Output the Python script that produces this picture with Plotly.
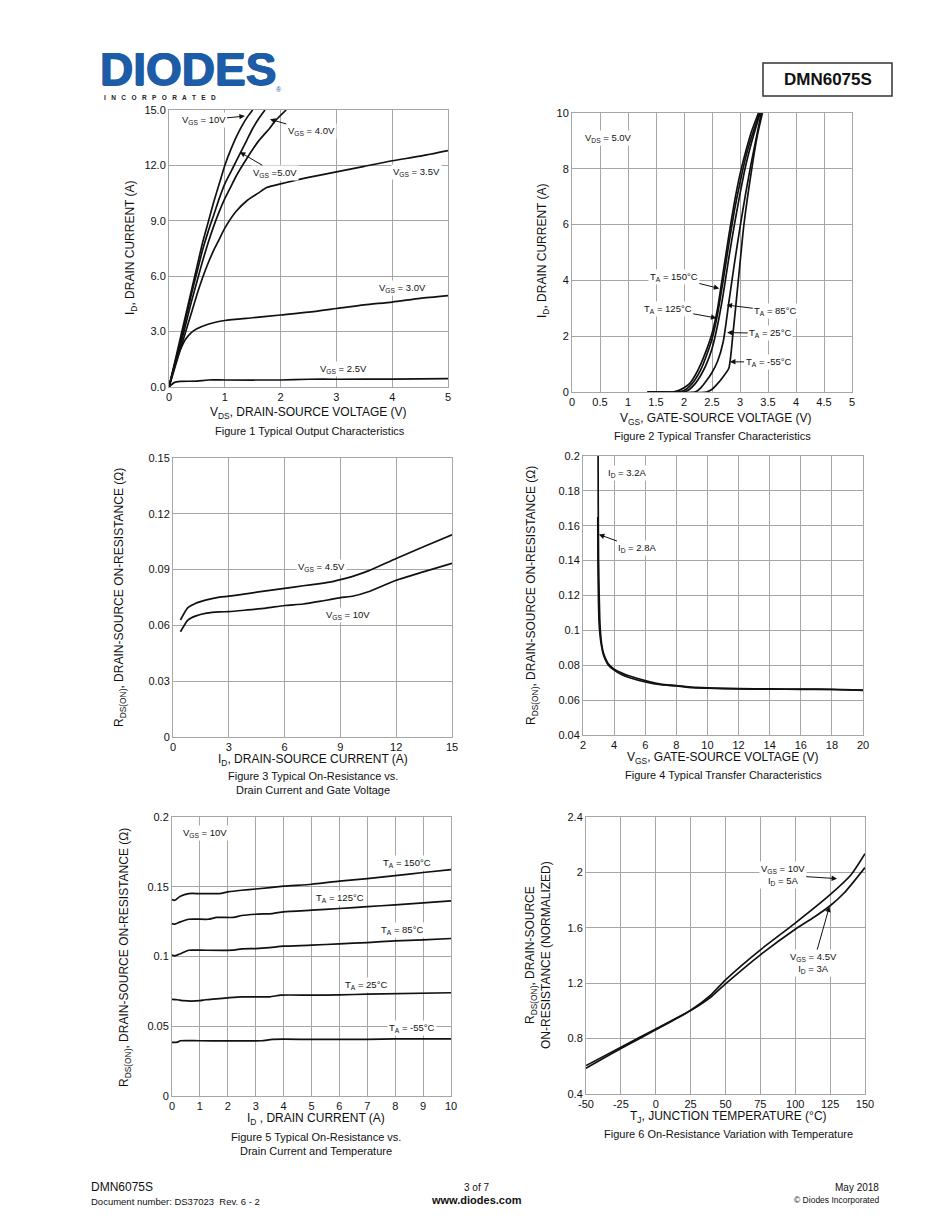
import plotly.graph_objects as go

PAGE_W, PAGE_H = 950, 1230
OFF = 8  # default body margin of the html page
W, H = PAGE_W - 2 * OFF, PAGE_H - 2 * OFF
FONT = "Liberation Sans, Arial, sans-serif"
GRID = "#a6a6a6"

# ---------------- Figure 1 data: ID vs VDS ----------------
f1_v10_x = [0, 0.1, 0.2, 0.3, 0.4, 0.5, 0.6, 0.7, 0.8, 0.9, 1.0, 1.1, 1.2, 1.3, 1.4, 1.5]
f1_v10_y = [0, 1.3, 2.6, 3.9, 5.2, 6.5, 7.8, 8.9, 10.0, 11.0, 12.0, 12.8, 13.5, 14.1, 14.6, 15.0]
f1_v5_x = [0, 0.1, 0.2, 0.3, 0.4, 0.5, 0.6, 0.7, 0.8, 0.9, 1.0, 1.1, 1.2, 1.3, 1.4, 1.5, 1.6, 1.72]
f1_v5_y = [0, 1.2, 2.4, 3.7, 5.0, 6.2, 7.4, 8.4, 9.3, 10.2, 11.0, 11.6, 12.2, 12.8, 13.4, 14.0, 14.5, 15.0]
f1_v4_x = [0, 0.1, 0.2, 0.3, 0.4, 0.5, 0.6, 0.7, 0.8, 0.9, 1.0, 1.1, 1.2, 1.4, 1.6, 1.8, 1.9, 2.1]
f1_v4_y = [0, 1.1, 2.2, 3.4, 4.6, 5.7, 6.8, 7.8, 8.7, 9.5, 10.2, 10.8, 11.4, 12.4, 13.3, 14.0, 14.4, 15.0]
f1_v35_x = [0, 0.1, 0.2, 0.3, 0.4, 0.5, 0.6, 0.7, 0.8, 0.9, 1.0, 1.2, 1.4, 1.6, 1.75, 2.0, 2.2, 2.5, 3.0, 3.5, 4.0, 4.5, 5.0]
f1_v35_y = [0, 1.0, 2.0, 3.0, 4.0, 5.0, 5.9, 6.7, 7.4, 8.0, 8.6, 9.5, 10.1, 10.5, 10.8, 11.0, 11.15, 11.35, 11.65, 11.95, 12.25, 12.5, 12.8]
f1_v3_x = [0, 0.1, 0.2, 0.3, 0.4, 0.5, 0.7, 1.0, 1.5, 2.0, 2.5, 3.0, 3.5, 4.0, 4.5, 5.0]
f1_v3_y = [0, 1.2, 2.0, 2.6, 2.95, 3.15, 3.4, 3.6, 3.75, 3.9, 4.05, 4.25, 4.45, 4.6, 4.8, 4.95]
f1_v25_x = [0, 0.1, 0.2, 0.5, 0.7, 1.0, 2.0, 2.5, 3.0, 4.0, 5.0]
f1_v25_y = [0, 0.25, 0.3, 0.32, 0.38, 0.38, 0.38, 0.42, 0.42, 0.43, 0.45]

# ---------------- Figure 2 data: ID vs VGS ----------------
f2_t150_x = [1.35, 1.8, 1.9, 2.0, 2.1, 2.2, 2.3, 2.4, 2.5, 2.6, 2.7, 2.8, 2.9, 3.0, 3.1, 3.2, 3.33]
f2_t150_y = [0, 0, 0.05, 0.15, 0.3, 0.6, 1.0, 1.5, 2.1, 3.0, 4.3, 5.6, 6.8, 7.8, 8.6, 9.3, 10.0]
f2_t125_x = [1.35, 1.9, 2.0, 2.1, 2.2, 2.3, 2.4, 2.5, 2.6, 2.7, 2.8, 2.9, 3.0, 3.1, 3.2, 3.35]
f2_t125_y = [0, 0, 0.05, 0.2, 0.45, 0.8, 1.3, 1.9, 2.8, 4.0, 5.3, 6.5, 7.5, 8.4, 9.1, 10.0]
f2_t85_x = [1.35, 2.0, 2.1, 2.2, 2.3, 2.4, 2.5, 2.6, 2.7, 2.8, 2.9, 3.0, 3.1, 3.2, 3.36]
f2_t85_y = [0, 0, 0.1, 0.3, 0.6, 1.0, 1.55, 2.4, 3.5, 4.8, 6.0, 7.1, 8.1, 8.9, 10.0]
f2_t25_x = [1.35, 2.2, 2.3, 2.4, 2.5, 2.6, 2.7, 2.8, 2.9, 3.0, 3.1, 3.2, 3.3, 3.38]
f2_t25_y = [0, 0, 0.15, 0.4, 0.7, 1.1, 1.8, 3.2, 4.6, 5.9, 7.1, 8.2, 9.2, 10.0]
f2_tm55_x = [1.35, 2.4, 2.5, 2.6, 2.7, 2.8, 2.87, 2.97, 3.07, 3.21, 3.31, 3.4]
f2_tm55_y = [0, 0, 0.1, 0.3, 0.55, 0.85, 2.0, 4.0, 6.0, 8.0, 9.2, 10.0]

# ---------------- Figure 3 data: RDS(on) vs ID ----------------
f3_id = [0.4, 0.8, 1.2, 1.8, 2.5, 3, 4, 5, 6, 7, 8, 8.5, 9, 9.7, 10.5, 12, 13.5, 15]
f3_v45 = [0.0629, 0.0695, 0.0718, 0.0737, 0.0752, 0.0757, 0.0771, 0.0786, 0.0799, 0.0813, 0.0826, 0.0834, 0.0846, 0.0865, 0.0893, 0.0960, 0.1024, 0.1087]
f3_v10 = [0.0566, 0.0629, 0.0650, 0.0666, 0.0673, 0.0674, 0.0683, 0.0693, 0.0707, 0.0715, 0.0731, 0.0740, 0.0749, 0.0758, 0.0781, 0.0843, 0.0889, 0.0934]

# ---------------- Figure 4 data: RDS(on) vs VGS ----------------
f4_i32_x = [2.97, 2.98, 3.0, 3.04, 3.08, 3.13, 3.2, 3.3, 3.45, 3.65, 4.0, 4.5, 5, 6, 7, 8, 9, 10, 12, 14, 16, 18, 20]
f4_i32_y = [0.2, 0.17, 0.14, 0.12, 0.106, 0.098, 0.092, 0.0875, 0.0838, 0.0805, 0.0778, 0.0755, 0.0738, 0.0712, 0.0692, 0.0684, 0.0674, 0.0670, 0.0666, 0.0664, 0.0663, 0.0662, 0.0658]
f4_i28_x = [2.95, 2.96, 2.99, 3.03, 3.11, 3.2, 3.28, 3.42, 3.62, 4.0, 4.5, 5, 6, 7, 8, 9, 10, 12, 14, 16, 18, 20]
f4_i28_y = [0.165, 0.14, 0.12, 0.105, 0.096, 0.0905, 0.087, 0.0835, 0.0802, 0.0772, 0.0745, 0.0728, 0.0704, 0.0688, 0.0681, 0.0671, 0.0668, 0.0664, 0.0663, 0.0662, 0.0661, 0.0656]

# ---------------- Figure 5 data: RDS(on) vs ID and temperature ----------------
f5_t150_x = [0, 0.1, 0.3, 0.6, 1.0, 1.7, 2.0, 2.5, 3, 4, 5, 6, 7, 8, 9, 10]
f5_t150_y = [0.1408, 0.1403, 0.1432, 0.1451, 0.1451, 0.1451, 0.1463, 0.1475, 0.1484, 0.1504, 0.1518, 0.1540, 0.1558, 0.1580, 0.1602, 0.1623]
f5_t125_x = [0, 0.1, 0.3, 0.6, 1.3, 1.6, 2.2, 2.5, 3, 3.6, 4, 5, 6, 7, 8, 9, 10]
f5_t125_y = [0.1236, 0.1232, 0.1248, 0.1267, 0.1267, 0.1280, 0.1280, 0.1294, 0.1303, 0.1308, 0.1320, 0.1332, 0.1344, 0.1358, 0.1370, 0.1385, 0.1399]
f5_t85_x = [0, 0.1, 0.3, 0.6, 1.0, 2.2, 2.5, 3, 3.5, 4, 5, 6, 7, 8, 9, 10]
f5_t85_y = [0.1010, 0.1005, 0.1020, 0.1045, 0.1045, 0.1045, 0.1055, 0.1057, 0.1064, 0.1074, 0.1081, 0.1091, 0.1100, 0.1112, 0.1119, 0.1129]
f5_t25_x = [0, 0.2, 0.4, 1.0, 1.2, 2.0, 2.5, 3.5, 3.9, 5, 6, 7, 10]
f5_t25_y = [0.0692, 0.0690, 0.0683, 0.0683, 0.0690, 0.0704, 0.0711, 0.0711, 0.0723, 0.0723, 0.0725, 0.0730, 0.0740]
f5_tm55_x = [0, 0.2, 0.3, 1.0, 3.2, 3.6, 5, 7, 8, 10]
f5_tm55_y = [0.0384, 0.0386, 0.0396, 0.0396, 0.0396, 0.0406, 0.0406, 0.0406, 0.0410, 0.0410]

# ---------------- Figure 6 data: normalized RDS(on) vs TJ ----------------
f6_v10_x = [-50, -25, 0, 25, 40, 50, 75, 100, 125, 140, 150]
f6_v10_y = [0.605, 0.737, 0.870, 1.005, 1.12, 1.224, 1.441, 1.634, 1.839, 1.983, 2.135]
f6_v45_x = [-50, -25, 0, 25, 40, 50, 75, 100, 115, 125, 135, 150]
f6_v45_y = [0.586, 0.728, 0.863, 1.002, 1.104, 1.195, 1.405, 1.590, 1.687, 1.759, 1.851, 2.035]

# tick definitions
f1_xt = [0, 1, 2, 3, 4, 5]; f1_yt = [0, 3, 6, 9, 12, 15]
f1_ytl = ["0.0", "3.0", "6.0", "9.0", "12.0", "15.0"]
f2_xt = [0, 0.5, 1, 1.5, 2, 2.5, 3, 3.5, 4, 4.5, 5]
f2_xtl = ["0", "0.5", "1", "1.5", "2", "2.5", "3", "3.5", "4", "4.5", "5"]
f2_yt = [0, 2, 4, 6, 8, 10]
f3_xt = [0, 3, 6, 9, 12, 15]
f3_yt = [0, 0.03, 0.06, 0.09, 0.12, 0.15]
f3_ytl = ["0", "0.03", "0.06", "0.09", "0.12", "0.15"]
f4_xt = [2, 4, 6, 8, 10, 12, 14, 16, 18, 20]
f4_yt = [0.04, 0.06, 0.08, 0.1, 0.12, 0.14, 0.16, 0.18, 0.2]
f4_ytl = ["0.04", "0.06", "0.08", "0.1", "0.12", "0.14", "0.16", "0.18", "0.2"]
f5_xt = list(range(0, 11))
f5_yt = [0, 0.05, 0.1, 0.15, 0.2]
f5_ytl = ["0", "0.05", "0.1", "0.15", "0.2"]
f6_xt = [-50, -25, 0, 25, 50, 75, 100, 125, 150]
f6_yt = [0.4, 0.8, 1.2, 1.6, 2.0, 2.4]
f6_ytl = ["0.4", "0.8", "1.2", "1.6", "2", "2.4"]


def px(x):
    return (x - OFF) / W


def py(y):
    return 1 - (y - OFF) / H


fig = go.Figure()

# plot areas in page pixels: (x0, x1, ytop, ybottom)
areas = {
    1: (169, 448, 110, 387),
    2: (572, 852, 113, 392),
    3: (173, 452, 458, 737),
    4: (583, 863, 456, 735),
    5: (172, 451, 817, 1096),
    6: (586, 865, 817, 1094),
}
ranges = {
    1: ([0, 5], [0, 15], f1_xt, None, f1_yt, f1_ytl),
    2: ([0, 5], [0, 10], f2_xt, f2_xtl, f2_yt, None),
    3: ([0, 15], [0, 0.15], f3_xt, None, f3_yt, f3_ytl),
    4: ([2, 20], [0.04, 0.2], f4_xt, None, f4_yt, f4_ytl),
    5: ([0, 10], [0, 0.2], f5_xt, None, f5_yt, f5_ytl),
    6: ([-50, 150], [0.4, 2.4], f6_xt, None, f6_yt, f6_ytl),
}

layout = {}
for k, (x0, x1, yt, yb) in areas.items():
    xr, yr, xt, xtl, ytv, ytl = ranges[k]
    sx = "" if k == 1 else str(k)
    common = dict(showgrid=True, gridcolor=GRID, gridwidth=1, showline=True,
                  linecolor=GRID, linewidth=1, mirror=True, zeroline=False,
                  ticks="", tickfont=dict(family=FONT, size=11, color="#111"),
                  fixedrange=True, automargin=False)
    layout["xaxis" + sx] = dict(common, domain=[px(x0), px(x1)], range=xr,
                                tickvals=xt, ticktext=xtl if xtl else [str(v) for v in xt],
                                anchor="y" + sx)
    layout["yaxis" + sx] = dict(common, domain=[py(yb), py(yt)], range=yr,
                                tickvals=ytv, ticktext=ytl if ytl else [str(v) for v in ytv],
                                anchor="x" + sx)

fig.update_layout(**layout)


def line(x, y, k, w=1.7):
    sx = "" if k == 1 else str(k)
    fig.add_trace(go.Scatter(x=x, y=y, mode="lines", xaxis="x" + sx, yaxis="y" + sx,
                             line=dict(color="#111", width=w, shape="spline", smoothing=0.6),
                             hoverinfo="skip", showlegend=False))


for xs, ys in [(f1_v10_x, f1_v10_y), (f1_v5_x, f1_v5_y), (f1_v4_x, f1_v4_y),
               (f1_v35_x, f1_v35_y), (f1_v3_x, f1_v3_y), (f1_v25_x, f1_v25_y)]:
    line(xs, ys, 1)
for xs, ys in [(f2_t150_x, f2_t150_y), (f2_t125_x, f2_t125_y), (f2_t85_x, f2_t85_y),
               (f2_t25_x, f2_t25_y), (f2_tm55_x, f2_tm55_y)]:
    line(xs, ys, 2)
line(f3_id, f3_v45, 3)
line(f3_id, f3_v10, 3)
line(f4_i32_x, f4_i32_y, 4)
line(f4_i28_x, f4_i28_y, 4)
for xs, ys in [(f5_t150_x, f5_t150_y), (f5_t125_x, f5_t125_y), (f5_t85_x, f5_t85_y),
               (f5_t25_x, f5_t25_y), (f5_tm55_x, f5_tm55_y)]:
    line(xs, ys, 5)
line(f6_v10_x, f6_v10_y, 6)
line(f6_v45_x, f6_v45_y, 6)

ann = []


def label(k, x, y, text, ax=None, ay=None, size=9.5, xanchor="center"):
    sx = "" if k == 1 else str(k)
    d = dict(xref="x" + sx, yref="y" + sx, text=text, bgcolor="white",
             font=dict(family=FONT, size=size, color="#111"), borderpad=1)
    if ax is None:
        d.update(x=x, y=y, showarrow=False, xanchor=xanchor)
    else:
        d.update(x=x, y=y, ax=ax, ay=ay, axref="x" + sx, ayref="y" + sx,
                 showarrow=True, arrowhead=2, arrowsize=1.1, arrowwidth=1,
                 arrowcolor="#111", standoff=0)
    ann.append(d)


# Fig 1 labels
label(1, 1.36, 14.67, "V<sub>GS</sub> = 10V", ax=0.62, ay=14.45)
label(1, 1.81, 14.5, "V<sub>GS</sub> = 4.0V", ax=2.55, ay=13.85)
label(1, 1.27, 12.72, "V<sub>GS</sub> =5.0V", ax=1.9, ay=11.6)
label(1, 4.43, 11.62, "V<sub>GS</sub> = 3.5V")
label(1, 4.19, 5.36, "V<sub>GS</sub> = 3.0V")
label(1, 3.12, 0.97, "V<sub>GS</sub> = 2.5V")
# Fig 2 labels
label(2, 0.66, 9.12, "V<sub>DS</sub> = 5.0V")
label(2, 2.63, 3.71, "T<sub>A</sub> = 150°C", ax=1.82, ay=4.12)
label(2, 2.58, 2.65, "T<sub>A</sub> = 125°C", ax=1.71, ay=2.97)
label(2, 2.76, 3.12, "T<sub>A</sub> = 85°C", ax=3.63, ay=2.9)
label(2, 2.77, 2.13, "T<sub>A</sub> = 25°C", ax=3.54, ay=2.1)
label(2, 2.82, 1.08, "T<sub>A</sub> = -55°C", ax=3.51, ay=1.08)
# Fig 3 labels
label(3, 7.97, 0.0915, "V<sub>GS</sub> = 4.5V")
label(3, 9.41, 0.0655, "V<sub>GS</sub> = 10V")
# Fig 4 labels
label(4, 4.8, 0.190, "I<sub>D</sub> = 3.2A")
label(4, 3.02, 0.155, "I<sub>D</sub> = 2.8A", ax=5.5, ay=0.147)
# Fig 5 labels
label(5, 1.18, 0.1885, "V<sub>GS</sub> = 10V")
label(5, 8.42, 0.167, "T<sub>A</sub> = 150°C")
label(5, 6.02, 0.142, "T<sub>A</sub> = 125°C")
label(5, 8.24, 0.119, "T<sub>A</sub> = 85°C")
label(5, 6.95, 0.0796, "T<sub>A</sub> = 25°C")
label(5, 8.6, 0.0487, "T<sub>A</sub> = -55°C")
# Fig 6 labels
label(6, 130, 1.955, "V<sub>GS</sub> = 10V<br>I<sub>D</sub> = 5A", ax=91, ay=1.98)
label(6, 124.5, 1.754, "V<sub>GS</sub> = 4.5V<br>I<sub>D</sub> = 3A", ax=113, ay=1.345)


def ptext(x, y, text, size=12, angle=0, xanchor="center", bold=False, color="#111",
          fam=FONT, shadow=None):
    if bold:
        text = "<b>" + text + "</b>"
    f = dict(family=fam, size=size, color=color)
    if shadow:
        f["shadow"] = shadow
    ann.append(dict(xref="paper", yref="paper", x=px(x), y=py(y), text=text,
                    showarrow=False, textangle=angle, xanchor=xanchor, yanchor="middle",
                    font=f, borderpad=0))


# axis titles and captions
ptext(308, 413, "V<sub>DS</sub>, DRAIN-SOURCE VOLTAGE (V)", 12)
ptext(310, 431, "Figure 1 Typical Output Characteristics", 11)
ptext(131, 248, "I<sub>D</sub>, DRAIN CURRENT (A)", 12, angle=-90)

ptext(715, 419, "V<sub>GS</sub>, GATE-SOURCE VOLTAGE (V)", 12)
ptext(712, 436, "Figure 2 Typical Transfer Characteristics", 11)
ptext(543, 251, "I<sub>D</sub>, DRAIN CURRENT (A)", 12, angle=-90)

ptext(313, 760, "I<sub>D</sub>, DRAIN-SOURCE CURRENT (A)", 12)
ptext(313, 776, "Figure 3 Typical On-Resistance vs.", 11)
ptext(313, 790, "Drain Current and Gate Voltage", 11)
ptext(120, 598, "R<sub>DS(ON)</sub>, DRAIN-SOURCE ON-RESISTANCE (Ω)", 12, angle=-90)

ptext(722, 758, "V<sub>GS</sub>, GATE-SOURCE VOLTAGE (V)", 12)
ptext(723, 775, "Figure 4 Typical Transfer Characteristics", 11)
ptext(532, 596, "R<sub>DS(ON)</sub>, DRAIN-SOURCE ON-RESISTANCE (Ω)", 12, angle=-90)

ptext(316, 1119, "I<sub>D</sub> , DRAIN CURRENT (A)", 12)
ptext(316, 1137, "Figure 5 Typical On-Resistance vs.", 11)
ptext(316, 1151, "Drain Current and Temperature", 11)
ptext(125, 958, "R<sub>DS(ON)</sub>, DRAIN-SOURCE ON-RESISTANCE (Ω)", 12, angle=-90)

ptext(728, 1117, "T<sub>J</sub>, JUNCTION TEMPERATURE (°C)", 12)
ptext(728, 1134, "Figure 6 On-Resistance Variation with Temperature", 11)
ptext(538, 955, "R<sub>DS(ON)</sub>, DRAIN-SOURCE<br>ON-RESISTANCE (NORMALIZED)", 12, angle=-90)

# header
LOGO = "#1d5ca6"
ptext(99, 69, "DIODES", 46, xanchor="left", bold=True, color=LOGO,
      shadow="0.8px 0 0 #1d5ca6, -0.8px 0 0 #1d5ca6, 0 0.6px 0 #1d5ca6")
ptext(103, 98, "I   N   C   O   R   P   O   R   A   T   E   D", 6.5, xanchor="left", bold=True, color="#222")
ptext(279, 90, "®", 7, color=LOGO)
ptext(828, 80, "DMN6075S", 17, bold=True)

# footer
ptext(90, 1187, "DMN6075S", 12, xanchor="left")
ptext(90, 1201, "Document number: DS37023  Rev. 6 - 2", 9.5, xanchor="left")
ptext(476, 1187, "3 of 7", 10)
ptext(476, 1200, "www.diodes.com", 11, bold=True)
ptext(880, 1187, "May 2018", 10, xanchor="right")
ptext(880, 1200, "© Diodes Incorporated", 8.5, xanchor="right")

fig.update_layout(
    annotations=ann,
    shapes=[dict(type="rect", xref="paper", yref="paper", x0=px(763), x1=px(892),
                 y0=py(96), y1=py(63), line=dict(color="#333", width=1.5))],
    width=W, height=H, margin=dict(l=0, r=0, t=0, b=0),
    paper_bgcolor="white", plot_bgcolor="white", showlegend=False,
    hovermode=False,
)

fig.write_html("out.html", config={"displayModeBar": False})
